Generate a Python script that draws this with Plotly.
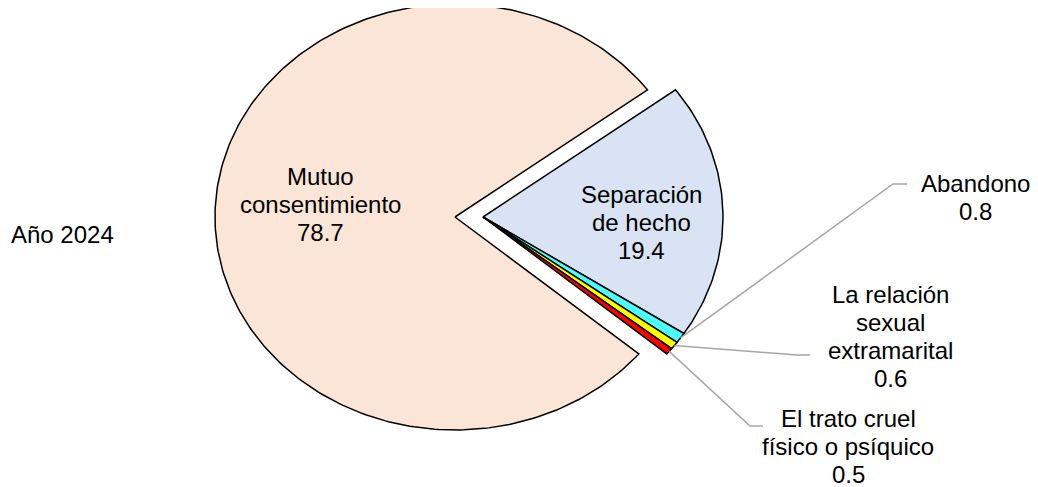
import numpy as np
import plotly.graph_objects as go

causas = ["Mutuo<br>consentimiento", "Separación<br>de hecho", "Abandono",
          "La relación<br>sexual<br>extramarital", "El trato cruel<br>físico o psíquico"]
porcentajes = [78.7, 19.4, 0.8, 0.6, 0.5]
colores = ["#FBE5D6", "#DAE3F3", "#4DFFFF", "#FFFF00", "#FF0000"]
anio = "Año 2024"

# pie drawn in pixel-like axes so it can be an ellipse like the original
cx, cy = 455, 217
rx, ry = 240, 213
desplaz = [0, 28, 28, 28, 28]   # pulled-out slices
inicio = -40.0                   # deg, slices go clockwise from here
off = 8                          # page body margin
interlinea = 28

# label placement (centre of text block); leader elbow points for outside labels
etiquetas = [(320, 204), (641, 222), (975, 197), (890, 336), (848, 446)]
codos = [None, None, [(893, 184), (907, 184)], [(797, 355), (810, 355)],
         [(750, 426), (763, 426)]]

fig = go.Figure()
fuente = dict(family="Liberation Sans, Arial, sans-serif", size=24, color="#000000")


def texto(x, y, s, anchor="center"):
    lineas = s.split("<br>")
    for k, ln in enumerate(lineas):
        fig.add_annotation(x=x, y=y + (k - (len(lineas) - 1) / 2) * interlinea,
                           text=ln, showarrow=False, xanchor=anchor,
                           yanchor="middle", font=fuente)


total = sum(porcentajes)
a0 = inicio
for i, v in enumerate(porcentajes):
    a1 = a0 - 360.0 * v / total
    n = max(3, int(abs(a1 - a0)) + 2)
    t = np.radians(np.linspace(a0, a1, n))
    ox = cx + desplaz[i]
    xs = np.concatenate([[ox], ox + rx * np.cos(t), [ox]])
    ys = np.concatenate([[cy], cy - ry * np.sin(t), [cy]])
    fig.add_trace(go.Scatter(x=xs, y=ys, mode="lines", fill="toself",
                             fillcolor=colores[i], line=dict(color="black", width=1.5),
                             hoverinfo="skip"))
    lx, ly = etiquetas[i]
    texto(lx, ly, f"{causas[i]}<br>{v}")
    if codos[i] is not None:
        tm = np.radians((a0 + a1) / 2)
        px = ox + rx * np.cos(tm)
        py = cy - ry * np.sin(tm)
        lxs = [px] + [p[0] for p in codos[i]]
        lys = [py] + [p[1] for p in codos[i]]
        fig.add_trace(go.Scatter(x=lxs, y=lys, mode="lines",
                                 line=dict(color="#A6A6A6", width=1.5), hoverinfo="skip"))
    a0 = a1

texto(off + 0.5, 234, anio, anchor="left")

fig.update_layout(width=1038, height=487, margin=dict(l=0, r=0, t=0, b=0),
                  paper_bgcolor="white", plot_bgcolor="white", showlegend=False,
                  xaxis=dict(range=[off, 1038 + off], visible=False, fixedrange=True),
                  yaxis=dict(range=[487 + off, off], visible=False, fixedrange=True))

fig.write_html("out.html")
